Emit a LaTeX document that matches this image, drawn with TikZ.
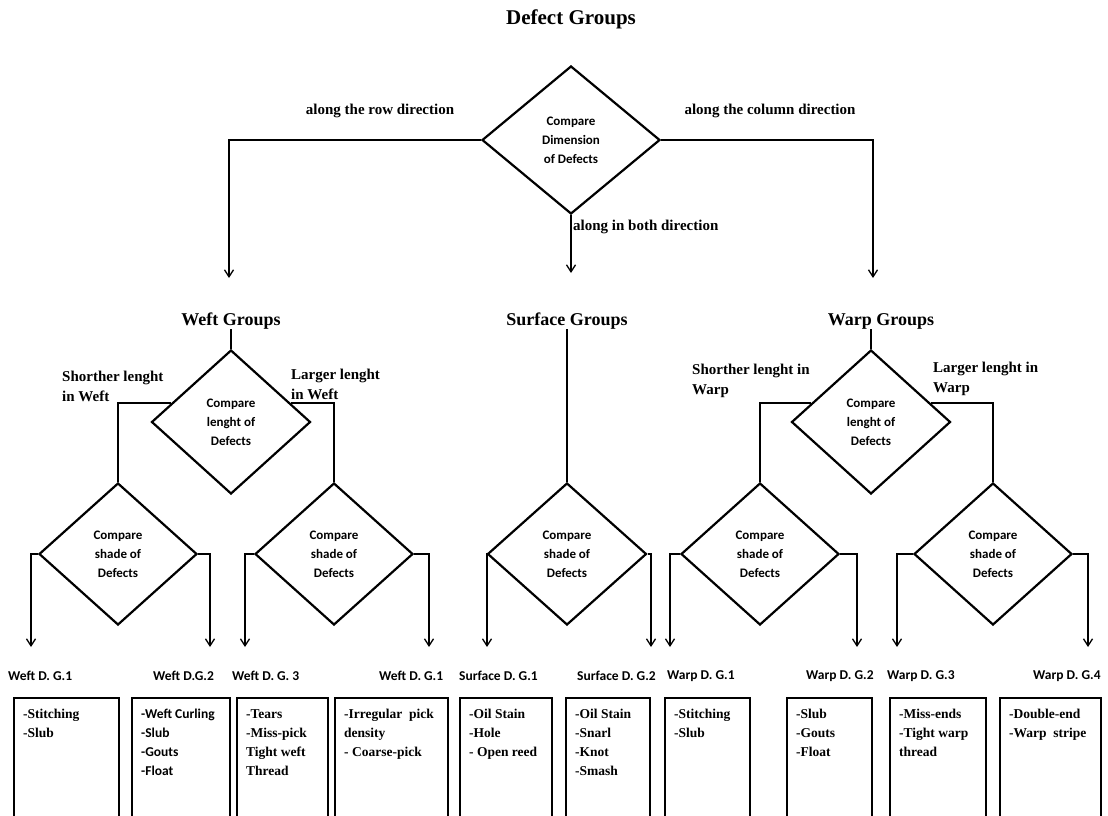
\documentclass[tikz,border=0pt]{standalone}
\usepackage{fontspec}
\setmainfont{Liberation Serif}
\newfontfamily\calibri{Carlito}
\usetikzlibrary{shapes.geometric,arrows.meta,calc}
\begin{document}
\begin{tikzpicture}[x=1pt,y=-1pt,
    choice/.style={draw,diamond,line width=2.2pt,inner sep=0pt,align=center,
        font=\calibri\bfseries\fontsize{13}{19}\selectfont},
    link/.style={line width=1.3pt},
    arr/.style={line width=1.3pt,-{Straight Barb[length=7pt,width=9pt]}},
    lbl/.style={font=\bfseries\fontsize{15}{20}\selectfont,inner sep=0pt,align=left},
    grp/.style={font=\bfseries\fontsize{18}{22}\selectfont,inner sep=0pt},
    tag/.style={font=\calibri\bfseries\fontsize{13.5}{16}\selectfont,inner sep=0pt,anchor=west},
    leaf/.style={draw,line width=1.5pt,anchor=north west,minimum height=140pt,inner sep=0pt},
    bodyserif/.style={font=\bfseries\fontsize{13.5}{19}\selectfont,inner sep=0pt,align=left},
    bodysans/.style={font=\calibri\bfseries\fontsize{13.5}{19}\selectfont,inner sep=0pt,align=left}]
    \useasboundingbox (0,0) rectangle (1108,816);
    \clip (0,0) rectangle (1108,816);
    % title and first decision
    \node[grp,font=\bfseries\fontsize{21}{24}\selectfont] (title) at (571,19) {Defect Groups};
    \node[choice,minimum width=178pt,minimum height=148pt] (dim) at (571,140) {Compare\\Dimension\\of Defects};
    \node[lbl] (rowlbl) at (380,111) {along the row direction};
    \node[lbl] (collbl) at (770,111) {along the column direction};
    \node[lbl,anchor=west] (bothlbl) at (573,227) {along in both direction};
    \coordinate (wgin) at (229,278);
    \coordinate (sgin) at (571,273);
    \coordinate (pgin) at (873,278);
    \draw[arr] (dim.west) -| (wgin);
    \draw[arr] (dim.south) -- (sgin);
    \draw[arr] (dim.east) -| (pgin);
    % groups
    \node[grp] (wg) at (231,321) {Weft Groups};
    \node[grp] (sg) at (567,321) {Surface Groups};
    \node[grp] (pg) at (881,321) {Warp Groups};
    \node[choice,minimum width=159pt,minimum height=144pt] (wlen) at (231,422) {Compare\\lenght of\\Defects};
    \node[choice,minimum width=159pt,minimum height=144pt] (plen) at (871,422) {Compare\\lenght of\\Defects};
    \draw[link] (wg.south) -- (wlen.north);
    \draw[link] (pg.south -| plen.north) -- (plen.north);
    \node[lbl,anchor=north west] (wshort) at (62,371) {Shorther lenght\\in Weft};
    \node[lbl,anchor=north west] (wlong) at (291,369) {Larger lenght\\in Weft};
    \node[lbl,anchor=north west] (pshort) at (692,364) {Shorther lenght in\\Warp};
    \node[lbl,anchor=north west] (plong) at (933,362) {Larger lenght in\\Warp};
    % shade decisions
    \node[choice,minimum width=158pt,minimum height=142pt] (wsa) at (118,554) {Compare\\shade of\\Defects};
    \node[choice,minimum width=158pt,minimum height=142pt] (wsb) at (334,554) {Compare\\shade of\\Defects};
    \node[choice,minimum width=159pt,minimum height=142pt] (ssh) at (567,554) {Compare\\shade of\\Defects};
    \node[choice,minimum width=158pt,minimum height=142pt] (psa) at (760,554) {Compare\\shade of\\Defects};
    \node[choice,minimum width=158pt,minimum height=142pt] (psb) at (993,554) {Compare\\shade of\\Defects};
    \draw[link] ($(wlen.west)!0.26!(wlen.north)$) -| (wsa.north);
    \draw[link] ($(wlen.east)!0.26!(wlen.north)$) -| (wsb.north);
    \draw[link] ($(plen.west)!0.26!(plen.north)$) -| (psa.north);
    \draw[link] ($(plen.east)!0.26!(plen.north)$) -| (psb.north);
    \draw[link] (sg.south) -- (ssh.north);
    % outputs of shade decisions
    \foreach \from/\side/\xe/\pin in {wsa/west/31/o1, wsa/east/210/o2, wsb/west/245/o3, wsb/east/429/o4,
        ssh/west/487/o5, ssh/east/651/o6, psa/west/670/o7, psa/east/857/o8, psb/west/897/o9, psb/east/1088/o10}{
        \coordinate (\pin) at (\xe,647);
        \draw[arr] (\from.\side) -| (\pin);
    }
    % defect group names
    \foreach \xt/\name/\txt in {8/t1/Weft D. G.1, 153/t2/Weft D.G.2, 232/t3/Weft D. G. 3, 379/t4/Weft D. G.1,
        459/t5/Surface D. G.1, 577/t6/Surface D. G.2, 667/t7/Warp D. G.1, 806/t8/Warp D. G.2,
        887/t9/Warp D. G.3, 1033/t10/Warp D. G.4}
        \node[tag] (\name) at (\xt,676) {\txt};
    % defect lists
    \foreach \xa/\xb/\name/\opt/\body in {
        13/118/b1/bodyserif/{-Stitching\\-Slub},
        131/229/b2/bodysans/{-Weft Curling\\-Slub\\-Gouts\\-Float},
        236/327/b3/bodyserif/{-Tears\\-Miss-pick\\Tight weft\\Thread},
        334/447/b4/bodyserif/{-Irregular\ \ pick\\density\\- Coarse-pick},
        459/551/b5/bodyserif/{-Oil Stain\\-Hole\\- Open reed},
        565/649/b6/bodyserif/{-Oil Stain\\-Snarl\\-Knot\\-Smash},
        664/749/b7/bodyserif/{-Stitching\\-Slub},
        786/871/b8/bodyserif/{-Slub\\-Gouts\\-Float},
        889/985/b9/bodyserif/{-Miss-ends\\-Tight warp\\thread},
        999/1100/b10/bodyserif/{-Double-end\\-Warp\ \ stripe}}{
        \node[leaf,minimum width=\xb-\xa] (\name) at (\xa,697) {};
        \node[\opt,anchor=north west] at ([shift={(10,12)}]\name.north west) {\body};
    }
\end{tikzpicture}
\end{document}
